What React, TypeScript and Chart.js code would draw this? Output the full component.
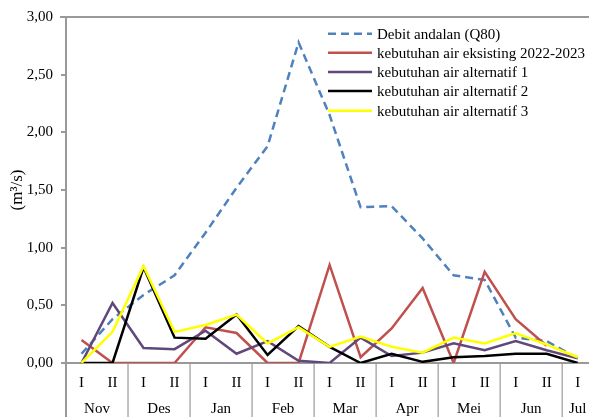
import React, { useEffect, useRef } from "react";
import { Chart, registerables } from "chart.js";

Chart.register(...registerables);

const halves = ["I", "II", "I", "II", "I", "II", "I", "II", "I", "II", "I", "II", "I", "II", "I", "II", "I"];
const months = ["Nov", "Des", "Jan", "Feb", "Mar", "Apr", "Mei", "Jun", "Jul"];
const monthSpans = [2, 2, 2, 2, 2, 2, 2, 2, 1];

const debitAndalan = [0.08, 0.38, 0.59, 0.76, 1.13, 1.52, 1.88, 2.78, 2.15, 1.35, 1.36, 1.08, 0.76, 0.72, 0.22, 0.19, 0.04];
const eksisting = [0.2, 0, 0, 0, 0.31, 0.26, 0, 0, 0.85, 0.05, 0.3, 0.65, 0, 0.79, 0.38, 0.15, null];
const alternatif1 = [0, 0.52, 0.13, 0.12, 0.28, 0.08, 0.19, 0.02, 0, 0.22, 0.06, 0.09, 0.17, 0.11, 0.19, 0.11, 0.04];
const alternatif2 = [0, 0, 0.83, 0.22, 0.21, 0.42, 0.07, 0.32, 0.14, 0, 0.08, 0.01, 0.05, 0.06, 0.08, 0.08, 0];
const alternatif3 = [0, 0.27, 0.84, 0.27, 0.33, 0.42, 0.17, 0.31, 0.14, 0.23, 0.14, 0.09, 0.22, 0.17, 0.26, 0.16, 0.05];

const seriesNames = [
  "Debit andalan (Q80)",
  "kebutuhan air eksisting 2022-2023",
  "kebutuhan air alternatif 1",
  "kebutuhan air alternatif 2",
  "kebutuhan air alternatif 3",
];
const seriesColors = ["#4F81BD", "#C0504D", "#60497A", "#000000", "#FFFF00"];

const FONT = "'Liberation Serif', 'Times New Roman', serif";
const AXIS = "#999999";

const decorPlugin = {
  id: "decor",
  afterDraw(chart: any) {
    const { ctx, chartArea: a, scales } = chart;
    const x = scales.x;
    const H = chart.height;
    ctx.save();
    // top border and left axis extension
    ctx.strokeStyle = AXIS;
    ctx.lineWidth = 2;
    ctx.beginPath();
    ctx.moveTo(a.left - 6, a.top);
    ctx.lineTo(a.right, a.top);
    ctx.moveTo(a.left, a.top);
    ctx.lineTo(a.left, H);
    ctx.stroke();
    // month separators and labels
    const half = (x.getPixelForValue(1) - x.getPixelForValue(0)) / 2;
    let idx = 0;
    ctx.font = "15px " + FONT;
    ctx.fillStyle = "#000";
    ctx.textAlign = "center";
    ctx.textBaseline = "middle";
    ctx.lineWidth = 1.2;
    months.forEach((m, i) => {
      const start = idx;
      const end = idx + monthSpans[i] - 1;
      const l = x.getPixelForValue(start) - half;
      const r = x.getPixelForValue(end) + half;
      ctx.beginPath();
      ctx.moveTo(r, a.bottom);
      ctx.lineTo(r, H);
      ctx.stroke();
      ctx.fillText(m, (l + r) / 2, a.bottom + 46);
      idx = end + 1;
    });
    // legend
    const lx0 = 328, lx1 = 372, tx = 377;
    const rows = [33.7, 52.7, 72, 91, 110.7];
    ctx.textAlign = "left";
    seriesNames.forEach((name, i) => {
      const y = rows[i];
      ctx.strokeStyle = seriesColors[i];
      ctx.lineWidth = 2.5;
      ctx.setLineDash(i === 0 ? [8, 5] : []);
      ctx.beginPath();
      ctx.moveTo(lx0, y);
      ctx.lineTo(lx1, y);
      ctx.stroke();
      ctx.setLineDash([]);
      ctx.fillStyle = "#000";
      ctx.fillText(name, tx, y + 1);
    });
    ctx.restore();
  },
};

export default function App() {
  const ref = useRef<HTMLCanvasElement | null>(null);
  useEffect(() => {
    if (!ref.current) return;
    const data = [debitAndalan, eksisting, alternatif1, alternatif2, alternatif3];
    const chart = new Chart(ref.current, {
      type: "line",
      data: {
        labels: halves,
        datasets: data.map((d, i) => ({
          label: seriesNames[i],
          data: d,
          borderColor: seriesColors[i],
          backgroundColor: seriesColors[i],
          borderWidth: 2.5,
          borderDash: i === 0 ? [8, 5] : [],
          pointRadius: 0,
          tension: 0,
          spanGaps: false,
          order: 5 - i,
        })),
      },
      options: {
        responsive: false,
        animation: false,
        layout: { padding: { top: 14.5, right: 6.8, bottom: 0, left: 0 } },
        plugins: { legend: { display: false }, tooltip: { enabled: false } },
        scales: {
          x: {
            offset: true,
            grid: { display: true, drawOnChartArea: false, drawTicks: false, color: AXIS },
            border: { display: true, color: AXIS, width: 2 },
            ticks: { color: "#000", font: { family: FONT, size: 15 }, padding: 11, maxRotation: 0, autoSkip: false },
            afterFit: (s: any) => {
              s.height = 54;
            },
          },
          y: {
            min: 0,
            max: 3,
            grid: { display: true, drawOnChartArea: false, drawTicks: true, tickLength: 5, color: AXIS, lineWidth: 2 },
            border: { display: true, color: AXIS, width: 2 },
            ticks: {
              stepSize: 0.5,
              color: "#000",
              font: { family: FONT, size: 15 },
              padding: 8,
              callback: (v: any) => Number(v).toFixed(2).replace(".", ","),
            },
            title: {
              display: true,
              text: "(m³/s)",
              color: "#000",
              font: { family: FONT, size: 17 },
              padding: { top: 7, bottom: 0 },
            },
            afterFit: (s: any) => {
              s.width = 66;
            },
          },
        },
      },
      plugins: [decorPlugin],
    });
    return () => chart.destroy();
  }, []);
  return (
    <div style={{ position: "fixed", left: 0, top: 0, width: 589, height: 417, overflow: "hidden", background: "#fff" }}>
      <canvas ref={ref} width={600} height={417} style={{ width: 600, height: 417, display: "block" }} />
    </div>
  );
}
